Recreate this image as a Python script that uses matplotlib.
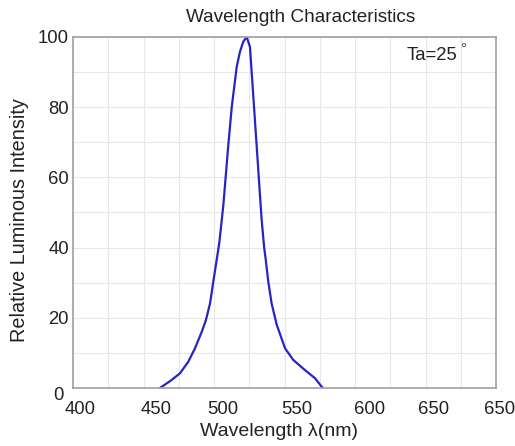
import matplotlib
matplotlib.use("Agg")
import matplotlib.pyplot as plt
import matplotlib.transforms as mtransforms
import numpy as np

wavelength = [461.7, 470.0, 475.9, 481.8, 486.5, 491.3, 494.3, 497.2, 499.5, 501.9,
              503.8, 506.6, 510.1, 512.6, 516.1, 518.4, 520.8, 523.2, 525.5, 527.9,
              530.3, 532.6, 533.8, 535.5, 536.7, 538.5, 540.9, 544.5, 550.4, 556.2,
              564.5, 571.6, 577.1]
intensity = [0, 2.3, 4.2, 7.5, 11.3, 16.0, 19.4, 24.1, 30.3, 36.5,
             41.5, 52.0, 69.0, 80.1, 91.5, 95.8, 98.7, 100, 97.2, 83.0,
             68.7, 55.0, 47.9, 40.3, 36.5, 30.3, 24.0, 18.0, 11.3, 8.0,
             5.1, 2.8, 0]
x_ticks = [400, 450, 500, 550, 600, 650, 700]
x_tick_labels = ["400", "450", "500", "550", "600", "650", "650"]
y_ticks = [0, 20, 40, 60, 80, 100]

plt.rcParams['font.family'] = ['Liberation Sans', 'DejaVu Sans']
TXT = "#222222"

fig = plt.figure(figsize=(5.15, 4.46), dpi=100)
ax = fig.add_axes([73/515, 58/446, 423/515, 351/446])
ax.plot(wavelength, intensity, color="#2424c8", lw=1.6,
        solid_joinstyle="round", solid_capstyle="round")
ax.set_xlim(400, 700)
ax.set_ylim(0, 100)
ax.set_xticks(x_ticks)
ax.set_xticklabels(x_tick_labels)
ax.set_yticks(y_ticks)
ax.set_xticks(np.arange(400, 701, 25), minor=True)
ax.set_yticks(np.arange(0, 101, 10), minor=True)
ax.grid(which="both", color="#e8e8e8", lw=0.8)
ax.set_axisbelow(True)
ax.tick_params(which="both", length=0, labelsize=13.3, colors=TXT)
ax.tick_params(axis="x", pad=9)
ax.tick_params(axis="y", pad=3)
for s in ax.spines.values():
    s.set_color("#a0a0a0")
    s.set_linewidth(1.2)

# label offsets as in the reference (pixels)
x_offsets = [7, 13, 9, 12, 15, 8, 4]
for lab, dx in zip(ax.get_xticklabels(), x_offsets):
    lab.set_transform(lab.get_transform() +
                      mtransforms.ScaledTranslation(dx / 100, 0, fig.dpi_scale_trans))
ylabs = ax.get_yticklabels()
ylabs[0].set_transform(ylabs[0].get_transform() +
                       mtransforms.ScaledTranslation(-5 / 100, -5 / 100, fig.dpi_scale_trans))

fig.text(301/515, 1 - 17/446, "Wavelength Characteristics", ha="center", va="center",
         fontsize=13.7, color=TXT)
fig.text(279/515, 1 - 432/446, "Wavelength λ(nm)", ha="center", va="center",
         fontsize=14, color=TXT)
fig.text(20/515, 1 - 220/446, "Relative Luminous Intensity", ha="center", va="center",
         rotation=90, fontsize=14.3, color=TXT)
fig.text(457/515, 1 - 55/446, "Ta=25", ha="right", va="center", fontsize=13.3, color=TXT)
fig.text(463/515, 1 - 49/446, "°", ha="center", va="center", fontsize=11, color="#555555")
fig.savefig("out.png", dpi=100)
